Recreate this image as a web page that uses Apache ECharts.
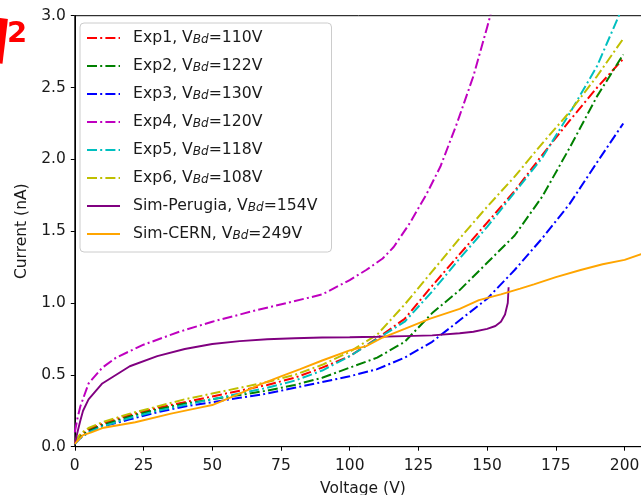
<!DOCTYPE html>
<html>
<head>
<meta charset="utf-8">
<script src="https://cdn.jsdelivr.net/npm/echarts@6/dist/echarts.min.js"></script>
<style>
html,body{margin:0;padding:0;background:#fff;}
#chart{width:641px;height:495px;}
</style>
</head>
<body>
<div id="chart"></div>
<script>
// ---- data ----
const expV = [0,2,5,10,20,30,40,50,60,70,80,90,100,110,120,130,140,150,160,170,180,190,199.5];
const exp1 = [0.03,0.08,0.12,0.16,0.22,0.27,0.31,0.35,0.39,0.43,0.48,0.55,0.63,0.755,0.89,1.12,1.34,1.56,1.78,2.03,2.27,2.50,2.70];
const exp2 = [0.03,0.07,0.11,0.15,0.21,0.26,0.30,0.33,0.36,0.39,0.43,0.48,0.55,0.62,0.73,0.93,1.09,1.28,1.47,1.74,2.08,2.44,2.73];
const exp3 = [0.02,0.06,0.10,0.14,0.19,0.24,0.28,0.31,0.34,0.37,0.41,0.45,0.49,0.54,0.62,0.73,0.88,1.03,1.23,1.45,1.69,1.98,2.25];
const exp5 = [0.02,0.06,0.10,0.14,0.20,0.25,0.29,0.33,0.37,0.41,0.46,0.53,0.63,0.75,0.87,1.08,1.31,1.53,1.77,2.01,2.32,2.65,3.07];
const exp6 = [0.03,0.09,0.13,0.17,0.23,0.28,0.33,0.37,0.41,0.45,0.50,0.57,0.66,0.78,0.99,1.22,1.45,1.67,1.88,2.11,2.33,2.58,2.84];
const exp4V = [0,1,2,5,10,15,25,38,50,64,77,90,100,106,112,116,122,128,133,139,145,150,152];
const exp4 = [0.10,0.20,0.28,0.44,0.55,0.62,0.71,0.80,0.87,0.94,1.00,1.06,1.16,1.23,1.31,1.39,1.56,1.76,1.95,2.25,2.58,2.92,3.06];
const perugiaV = [0,0.7,2,3,5,10,20,30,40,50,60,70,80,90,100,110,120,130,140,145,150,153,155,156.5,157.5,157.8];
const perugia = [0.02,0.08,0.18,0.25,0.33,0.44,0.56,0.63,0.68,0.715,0.735,0.748,0.755,0.76,0.762,0.765,0.77,0.775,0.79,0.80,0.82,0.84,0.87,0.92,1.0,1.11];
const cernV = [0,1,3,6,10,22,35,45,50,55,60,67,75,82,90,100,106,112,120,129,140,147,155,162,167,175,184,192,200,206,210];
const cern = [0.02,0.04,0.08,0.10,0.13,0.17,0.23,0.27,0.29,0.33,0.37,0.43,0.49,0.54,0.60,0.67,0.70,0.76,0.82,0.89,0.96,1.02,1.06,1.10,1.13,1.18,1.23,1.27,1.30,1.34,1.35];
const names = ['Exp1, VBd=110V','Exp2, VBd=122V','Exp3, VBd=130V','Exp4, VBd=120V','Exp5, VBd=118V','Exp6, VBd=108V','Sim-Perugia, VBd=154V','Sim-CERN, VBd=249V'];
const xTicks = [0,25,50,75,100,125,150,175,200];
const yTicks = [0.0,0.5,1.0,1.5,2.0,2.5,3.0];

function pairs(xs, ys){ return xs.map((x,i)=>[x, ys[i]]); }
const FONT = 'DejaVu Sans';
const dashDot = [10, 3.2, 2, 3.2];
function expSeries(name, xs, ys, color){
  return {name, type:'line', data:pairs(xs,ys), symbol:'none', smooth:false,
    lineStyle:{color, width:2, type:dashDot}, itemStyle:{color}, z:2};
}
function simSeries(name, xs, ys, color){
  return {name, type:'line', data:pairs(xs,ys), symbol:'none', smooth:false,
    lineStyle:{color, width:1.9, type:'solid'}, itemStyle:{color}, z:3};
}

const chart = echarts.init(document.getElementById('chart'), null, {renderer:'canvas'});
chart.setOption({
  animation:false,
  backgroundColor:'#fff',
  textStyle:{fontFamily:FONT},
  grid:{left:74.8, top:15.7, right:-10, bottom:48.3, show:true, borderColor:'#000', borderWidth:1,
    containLabel:false, outerBoundsMode:'none'},
  xAxis:{type:'value', min:0, max:209.6, interval:25, name:'Voltage (V)', nameLocation:'middle', nameGap:34,
    nameTextStyle:{fontSize:15.5, color:'#1a1a1a', fontFamily:FONT},
    axisLine:{show:true, lineStyle:{color:'#000', width:1}},
    axisTick:{show:true, length:4, lineStyle:{color:'#000'}},
    axisLabel:{fontSize:15.5, color:'#1a1a1a', margin:11, fontFamily:FONT, showMaxLabel:false,
      formatter:v=> xTicks.includes(v) ? String(v) : ''},
    splitLine:{show:false}},
  yAxis:{type:'value', min:0, max:3, interval:0.5, name:'Current (nA)', nameLocation:'middle', nameGap:45,
    nameTextStyle:{fontSize:15.5, color:'#1a1a1a', fontFamily:FONT},
    axisLine:{show:true, lineStyle:{color:'#000', width:1}},
    axisTick:{show:true, length:4, lineStyle:{color:'#000'}},
    axisLabel:{fontSize:15.5, color:'#1a1a1a', margin:9, fontFamily:FONT,
      formatter:v=> yTicks.find(t=>Math.abs(t-v)<1e-9)!==undefined ? v.toFixed(1) : ''},
    splitLine:{show:false}},
  legend:{orient:'vertical', left:80, top:23, padding:[6,14,10,6], itemWidth:33, itemHeight:14, itemGap:11,
    backgroundColor:'rgba(255,255,255,0.85)', borderColor:'#cccccc', borderWidth:1, borderRadius:4,
    data:names,
    itemStyle:{opacity:0},
    formatter:n=> n.replace('VBd','V{s|Bd}'),
    textStyle:{fontSize:15.7, color:'#1a1a1a', fontFamily:FONT, lineHeight:16, padding:[0,0,0,8],
      rich:{s:{fontSize:12, fontStyle:'italic', fontFamily:FONT, color:'#1a1a1a', verticalAlign:'bottom', lineHeight:16, padding:[5,0,0,0]}}}},
  graphic:[
    {type:'text', x:-9, y:15, rotation:-0.12, z:10, style:{text:'I', fill:'#ff0000', font:'bold 62px "DejaVu Sans"'}},
    {type:'text', x:7, y:20, z:10, style:{text:'2', fill:'#ff0000', font:'bold 29px "DejaVu Sans"'}}
  ],
  series:[
    expSeries(names[0], expV, exp1, '#ff0000'),
    expSeries(names[1], expV, exp2, '#008000'),
    expSeries(names[2], expV, exp3, '#0000ff'),
    expSeries(names[3], exp4V, exp4, '#bf00bf'),
    expSeries(names[4], expV, exp5, '#00bfbf'),
    expSeries(names[5], expV, exp6, '#bfbf00'),
    simSeries(names[6], perugiaV, perugia, '#800080'),
    simSeries(names[7], cernV, cern, '#ffa500')
  ]
});
</script>
</body>
</html>
